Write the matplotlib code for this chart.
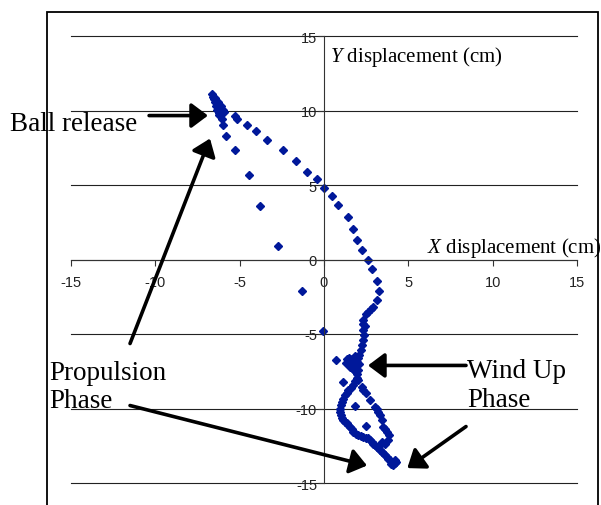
import matplotlib
matplotlib.use("Agg")
import matplotlib.pyplot as plt
from matplotlib.patches import Rectangle

plt.rcParams["font.family"] = ["Liberation Sans", "DejaVu Sans"]
plt.rcParams["mathtext.fontset"] = "custom"
plt.rcParams["mathtext.rm"] = "Liberation Serif"
plt.rcParams["mathtext.it"] = "Liberation Serif:italic"
plt.rcParams["axes.unicode_minus"] = False

# ---------------------------------------------------------------------
# data (cm)
# ---------------------------------------------------------------------

# release cluster and upper path
x_upper = [-6.62, -6.56, -6.50, -6.44, -6.36, -6.26, -6.16, -6.32, -6.06, -5.91,
           -6.21, -6.06, -6.01, -5.81, -5.26, -6.45, -6.30, -6.40, -6.10, -6.00,
           -6.25, -5.28, -5.14, -4.58, -4.05, -3.36, -2.41, -1.66, -0.99, -0.43,
           0.02, 0.45, 0.85, 1.40, 1.74, 1.94, 2.23, 2.63, 2.83, 3.12,
           3.26, 3.12, 2.93, 2.77, 2.63, 2.49, 2.33, 2.29, 2.43, 2.33,
           2.37, 2.33, 2.25, 2.19, 2.09, 2.04]
y_upper = [11.14, 10.92, 10.76, 10.58, 10.40, 10.25, 10.13, 10.02, 9.91, 9.91,
           9.68, 9.46, 9.06, 8.30, 7.38, 10.85, 10.60, 10.30, 10.30, 10.05,
           9.85, 9.64, 9.42, 9.06, 8.64, 8.01, 7.38, 6.64, 5.84, 5.39,
           4.81, 4.25, 3.69, 2.86, 2.08, 1.30, 0.62, 0.00, -0.65, -1.43,
           -2.10, -2.75, -3.18, -3.33, -3.51, -3.69, -4.07, -4.30, -4.45, -4.74,
           -5.08, -5.41, -5.75, -6.09, -6.38, -6.64]

# sparse points of the propulsion path
x_sparse = [-4.45, -3.77, -2.74, -1.32, -0.08, 0.71, 1.15, 1.84, 2.47]
y_sparse = [5.66, 3.60, 0.89, -2.10, -4.80, -6.76, -8.19, -9.82, -11.19]

# wind up cluster and lower loop
x_loop = [1.35, 1.50, 1.65, 1.80, 1.95, 1.45, 1.60, 1.75, 1.90, 1.55,
          1.70, 1.85, 1.95, 2.00, 1.85, 1.30, 2.05, 1.95, 1.85,
          1.74, 1.60, 1.44, 1.34, 1.24, 1.14, 1.05, 1.00, 0.95, 0.96,
          0.99, 1.06, 1.15, 1.25, 1.35, 1.45, 1.54, 1.64, 1.74, 1.90,
          2.04, 2.18, 2.33, 2.48, 2.63, 2.73, 2.83, 2.93, 3.02, 3.12,
          3.22, 3.32, 3.42, 3.52, 3.62, 3.72, 3.81, 3.91, 4.01, 4.11,
          4.21, 4.21, 4.11, 4.25, 4.00,
          2.04, 2.23, 2.33, 2.49, 2.73, 3.02, 3.12, 3.22, 3.32, 3.42,
          3.48, 3.60, 3.72, 3.87, 3.81, 3.62, 3.42, 3.30]
y_loop = [-6.70, -6.62, -6.68, -6.75, -6.85, -6.90, -7.00, -7.10, -7.20, -7.20,
          -7.35, -7.50, -7.70, -7.40, -6.50, -6.95, -7.00, -7.95, -8.15,
          -8.43, -8.60, -8.77, -8.95, -9.11, -9.33, -9.55, -9.78, -10.00, -10.22,
          -10.45, -10.62, -10.78, -10.90, -11.00, -11.12, -11.23, -11.40, -11.57, -11.70,
          -11.79, -11.85, -11.90, -11.95, -12.01, -12.12, -12.24, -12.35, -12.46, -12.57,
          -12.68, -12.80, -12.91, -13.02, -13.13, -13.25, -13.36, -13.47, -13.58, -13.69,
          -13.69, -13.47, -13.80, -13.60, -13.75,
          -8.10, -8.55, -8.77, -8.99, -9.44, -9.89, -10.05, -10.22, -10.45, -10.78,
          -11.23, -11.40, -11.57, -11.79, -12.13, -12.35, -12.24, -12.45]

ticks = [-15, -10, -5, 0, 5, 10, 15]

# ---------------------------------------------------------------------
# figure
# ---------------------------------------------------------------------

fig = plt.figure(figsize=(6.01, 5.06), dpi=100)
ax = fig.add_axes([71 / 601, 1 - 484 / 506, (577 - 71) / 601, (484 - 37) / 506])
ax.set_xlim(-15, 15)
ax.set_ylim(-15, 15)
ax.set_xticks(ticks)
ax.set_yticks(ticks)

for side in ["top", "right"]:
    ax.spines[side].set_visible(False)
for side in ["left", "bottom"]:
    ax.spines[side].set_position(("data", 0))
    ax.spines[side].set_color("#333333")
    ax.spines[side].set_linewidth(0.8)

ax.yaxis.grid(True, color="#222222", linewidth=0.8)
for gl in ax.get_ygridlines():
    gl.set_clip_on(False)
ax.set_axisbelow(True)
ax.tick_params(axis="x", direction="out", length=4, width=0.8, color="#333333",
               pad=7, labelsize=10.5, labelcolor="#222222")
ax.tick_params(axis="y", direction="out", length=4, width=0.8, color="#333333",
               pad=1, labelsize=10.5, labelcolor="#222222")

mk = dict(marker="D", markersize=3.6, linestyle="none", color="#00189a")
ax.plot(x_upper, y_upper, **mk)
ax.plot(x_sparse, y_sparse, **mk)
ax.plot(x_loop, y_loop, **mk)

# axis titles
serif = "Liberation Serif"
ax.text(0.36, 13.29, r"$\mathit{Y}$ displacement (cm)", family=serif, fontsize=15)
ax.text(6.11, 0.47, r"$\mathit{X}$ displacement (cm)", family=serif, fontsize=15)

# annotations
ax.text(-18.61, 8.72, "Ball release", family=serif, fontsize=19.5)
ax.text(-16.3, -9.93, "Propulsion\nPhase", family=serif, fontsize=19.5)
ax.text(8.48, -9.8, "Wind Up\nPhase", family=serif, fontsize=19.5)

arrow = dict(arrowstyle="-|>,head_length=1.0,head_width=0.75", color="black",
             lw=2.6, mutation_scale=10, shrinkA=0, shrinkB=0)
arrows = [
    ((-6.88, 9.66), (-10.37, 9.66)),
    ((-6.76, 8.12), (-11.50, -5.64)),
    ((2.55, -13.83), (-11.50, -9.80)),
    ((2.61, -7.11), (8.42, -7.11)),
    ((4.94, -14.0), (8.42, -11.21)),
]
for tip, tail in arrows:
    ax.annotate("", xy=tip, xytext=tail, arrowprops=arrow, annotation_clip=False)

# outer chart frame (cut by the bottom edge)
fig.patches.append(Rectangle((47 / 601, -0.05), (598 - 47) / 601, 1 - 13 / 506 + 0.05,
                             transform=fig.transFigure, fill=False,
                             edgecolor="black", linewidth=1.3))

plt.savefig("out.png", dpi=100)
